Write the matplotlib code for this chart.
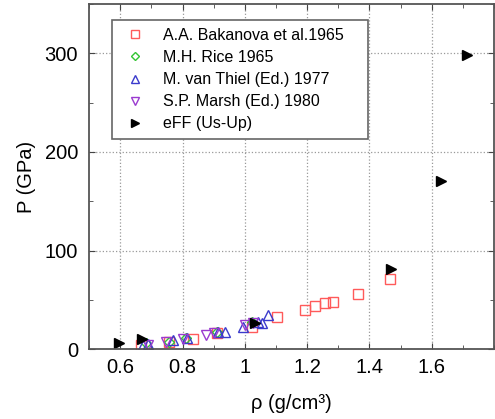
import matplotlib
matplotlib.use('Agg')
import matplotlib.pyplot as plt
from matplotlib.ticker import MultipleLocator

plt.rcParams['font.family'] = ['Liberation Sans', 'DejaVu Sans']

# A.A. Bakanova et al. 1965
bak_rho = [0.667, 0.755, 0.832, 0.911, 1.024, 1.103, 1.193, 1.225, 1.257, 1.282, 1.362, 1.467]
bak_p = [4, 7, 10, 16, 22, 32, 40, 44, 47, 48, 56, 71]
# M.H. Rice 1965
rice_rho = [0.683, 0.755, 0.812, 0.911, 1.024]
rice_p = [6, 7, 11, 17, 27]
# M. van Thiel 1977
thiel_rho = [0.672, 0.688, 0.768, 0.815, 0.915, 0.937, 0.995, 1.043, 1.055, 1.075]
thiel_p = [4, 5, 9, 11, 17, 17, 22, 27, 26, 35]
# S.P. Marsh 1980
marsh_rho = [0.688, 0.748, 0.803, 0.874, 0.900, 1.002, 1.027]
marsh_p = [4, 7, 10, 14, 16, 24, 26]
# eFF (Us-Up)
eff_rho = [0.595, 0.669, 1.033, 1.469, 1.629, 1.713]
eff_p = [6, 10, 26, 81, 171, 298]

xtick_vals = [0.6, 0.8, 1.0, 1.2, 1.4, 1.6]
xtick_labels = ['0.6', '0.8', '1', '1.2', '1.4', '1.6']
ytick_vals = [0, 100, 200, 300]

fig = plt.figure(figsize=(4.95, 4.19), dpi=100)
ax = fig.add_axes([0.18, 0.167, 0.818, 0.823])

ms = 6.5
ax.plot(bak_rho, bak_p, 's', mfc='none', mec='#ff5a5a', mew=1.0, ms=ms, label='A.A. Bakanova et al.1965')
ax.plot(rice_rho, rice_p, 'D', mfc='none', mec='#33c433', mew=1.0, ms=ms - 1, label='M.H. Rice 1965')
ax.plot(thiel_rho, thiel_p, '^', mfc='none', mec='#3a3acc', mew=1.0, ms=ms, label='M. van Thiel (Ed.) 1977')
ax.plot(marsh_rho, marsh_p, 'v', mfc='none', mec='#9a3ad0', mew=1.0, ms=ms, label='S.P. Marsh (Ed.) 1980')
ax.plot(eff_rho, eff_p, '>', color='black', ms=ms, label='eFF (Us-Up)')

ax.set_xlim(0.5, 1.8)
ax.set_ylim(0, 350)
ax.xaxis.set_minor_locator(MultipleLocator(0.1))
ax.yaxis.set_minor_locator(MultipleLocator(50))
ax.set_xticks(xtick_vals)
ax.set_xticklabels(xtick_labels)
ax.set_yticks(ytick_vals)

ax.grid(True, which='major', linestyle=':', color='#999999', linewidth=0.9)
ax.tick_params(which='both', direction='in', top=True, right=True, labelsize=14.5,
               color='#444444')
ax.tick_params(which='major', length=4)
ax.tick_params(which='minor', length=3)
ax.tick_params(axis='y', pad=8)
ax.tick_params(axis='x', pad=6.5)
for s in ax.spines.values():
    s.set_color('#555555')
    s.set_linewidth(1.3)

ax.set_xlabel('ρ (g/cm³)', fontsize=14.5, labelpad=12)
ax.set_ylabel('P (GPa)', fontsize=14.5, labelpad=6)

leg = ax.legend(loc='upper left', bbox_to_anchor=(0.057, 0.954, 0.632, 0.0),
                mode='expand', fontsize=11.5, markerscale=0.8,
                fancybox=False, edgecolor='#666666', framealpha=1,
                handlelength=1.9, handletextpad=0.8, labelspacing=0.44,
                borderpad=0.5, borderaxespad=0)
leg.get_frame().set_linewidth(1.2)

fig.savefig('out.png', dpi=100)
